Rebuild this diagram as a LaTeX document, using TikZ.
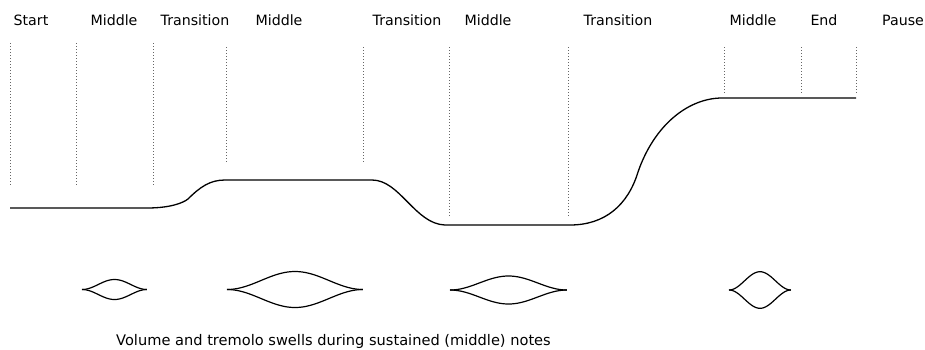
\documentclass[tikz,border=0pt]{standalone}
\usepackage{fontspec}
\setmainfont{DejaVu Sans}
\newcommand\lensdraw[4]{%
  \draw[lensline] plot[domain=0:1,samples=60,smooth] ({#1+\x*(#2-#1)},{#3-#4*(1-cos(360*\x))/2});
  \draw[lensline] plot[domain=0:1,samples=60,smooth] ({#1+\x*(#2-#1)},{#3+#4*(1-cos(360*\x))/2});
}
\begin{document}
\begin{tikzpicture}[x=1pt,y=-1pt,
  lbl/.style={anchor=base, inner sep=0pt, font=\fontsize{14.2}{17}\selectfont},
  caplbl/.style={anchor=base west, inner sep=0pt, font=\fontsize{14.6}{17}\selectfont},
  guide/.style={line width=0.8pt, black!60, dash pattern=on 0.8pt off 2.2pt},
  curve/.style={line width=1.3pt, line join=round},
  lensline/.style={line width=1.2pt}]
\useasboundingbox (0,0) rectangle (925,349);
% labels
\node[lbl] (l1) at (31,25.5) {Start};
\node[lbl] (l2) at (114,25.5) {Middle};
\node[lbl] (l3) at (195,25.5) {Transition};
\node[lbl] (l4) at (279,25.5) {Middle};
\node[lbl] (l5) at (407,25.5) {Transition};
\node[lbl] (l6) at (488,25.5) {Middle};
\node[lbl] (l7) at (618,25.5) {Transition};
\node[lbl] (l8) at (753,25.5) {Middle};
\node[lbl] (l9) at (824,25.5) {End};
\node[lbl] (l10) at (903,25.5) {Pause};
% guides
\foreach \gx/\ya/\yb in {10/43/185, 76/43/185, 153/43/185, 226/47/162, 363/47/162, 449/47/217, 568/47/217, 724/47/93, 801/47/93, 856/47/93}
  \draw[guide] (\gx,\ya) -- (\gx,\yb);
% main curve
\draw[curve] (10,208) -- (147,208)
  .. controls (170,208) and (183,203) .. (188,199)
  .. controls (200,187) and (210,180) .. (225,180)
  -- (372,180)
  .. controls (400,180) and (415,224) .. (445,225)
  -- (570,225)
  .. controls (605,225) and (628,205) .. (638,172)
  .. controls (655,123) and (690,98) .. (722,98)
  -- (856,98);
% lenses
\lensdraw{82}{147}{289.5}{10}
\lensdraw{227}{363}{289.5}{18}
\lensdraw{450}{567}{290}{14}
\lensdraw{729}{791}{290}{18.3}
\node[caplbl] (cap) at (116,345) {Volume and tremolo swells during sustained (middle) notes};
\end{tikzpicture}
\end{document}
